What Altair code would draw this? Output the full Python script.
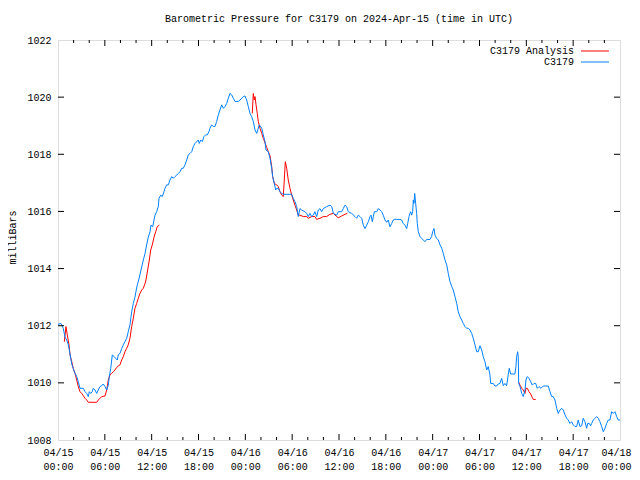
import altair as alt
import pandas as pd

# ---- data (hours since 2024-04-15 00:00 UTC, millibars) ----
blue_h = [0.00, 0.38, 0.68, 0.90, 1.11, 1.32, 1.45, 1.63, 1.79, 1.96, 2.18, 2.40, 2.60, 2.82, 3.24, 3.46,
          3.68, 3.88, 4.01, 4.19, 4.39, 4.52, 4.74, 4.96, 5.16, 5.38, 5.60, 5.80, 6.02, 6.24, 6.44, 6.57,
          6.75, 6.96, 7.17, 7.39, 7.60, 7.72, 7.94, 8.16, 8.37, 8.58, 8.80, 9.00, 9.22, 9.35, 9.48, 9.65,
          9.86, 9.99, 10.16, 10.34, 10.93, 11.15, 11.36, 11.57, 11.79, 11.91, 12.13, 12.30, 12.43, 12.64,
          12.85, 12.94, 13.16, 13.36, 13.58, 13.71, 13.93, 14.13, 14.35, 14.57, 14.77, 14.99, 15.21, 15.41,
          15.63, 15.85, 16.05, 16.27, 16.49, 16.69, 16.91, 17.13, 17.33, 17.55, 17.77, 17.97, 18.10, 18.28,
          18.49, 18.70, 18.92, 19.13, 19.34, 19.47, 19.69, 19.90, 20.11, 20.33, 20.54, 20.75, 20.97, 21.18,
          21.39, 21.61, 21.82, 22.03, 22.25, 22.46, 22.68, 23.10, 23.32, 23.74, 23.96, 24.17, 24.38, 24.60,
          24.81, 25.02, 25.24, 25.46, 25.79, 26.10, 26.30, 26.52, 26.65, 26.94, 27.16, 27.38, 27.50, 27.71,
          27.89, 28.02, 28.22, 28.44, 28.66, 28.86, 29.94, 30.14, 30.36, 30.58, 30.78, 31.00, 31.22, 31.64,
          31.86, 32.06, 32.28, 32.50, 32.71, 32.92, 33.14, 33.35, 33.56, 33.78, 33.99, 34.42, 34.85, 35.07,
          35.28, 35.70, 35.91, 36.34, 36.55, 36.77, 36.98, 37.19, 37.63, 38.05, 38.27, 38.47, 38.69, 38.91,
          39.11, 39.33, 39.55, 39.76, 39.97, 40.10, 40.27, 40.40, 40.53, 40.83, 41.03, 41.25, 41.47, 41.67,
          41.89, 42.11, 42.31, 42.53, 42.75, 42.95, 43.17, 43.39, 43.81, 44.03, 44.23, 44.45, 44.67, 44.80,
          44.97, 45.09, 45.18, 45.31, 45.44, 45.52, 45.61, 45.70, 45.82, 45.95, 46.03, 46.16, 46.38, 46.59,
          46.80, 47.01, 47.23, 47.66, 47.87, 48.00, 48.17, 48.30, 48.51, 48.72, 48.94, 49.16, 49.36, 49.58,
          49.80, 50.00, 50.22, 50.44, 50.64, 50.86, 51.08, 51.28, 51.50, 51.72, 51.92, 52.14, 52.36, 52.56,
          52.78, 53.00, 53.20, 53.42, 53.64, 53.84, 54.06, 54.28, 54.48, 54.70, 54.92, 55.12, 55.34, 55.43,
          55.76, 55.98, 56.20, 56.40, 56.62, 56.84, 57.05, 57.26, 57.48, 57.68, 57.81, 57.99, 58.54, 58.67,
          58.76, 58.89, 58.97, 59.02, 59.19, 59.41, 59.61, 59.83, 59.95, 60.12, 60.34, 60.56, 60.76, 60.98,
          61.20, 61.40, 61.62, 61.88, 62.17, 62.81, 63.03, 63.25, 63.45, 63.67, 63.89, 64.09, 64.31, 64.53,
          64.73, 64.95, 65.17, 65.37, 65.59, 65.81, 66.01, 66.23, 66.45, 66.65, 66.87, 67.09, 67.29, 67.51,
          67.73, 67.86, 68.07, 68.24, 68.37, 68.58, 68.79, 69.01, 69.22, 69.43, 69.65, 69.86, 70.08, 70.29,
          70.50, 70.71, 70.93, 71.14, 71.36, 71.57, 71.78, 72.00]
blue_p = [1012.05, 1012.08, 1011.90, 1011.60, 1011.50, 1011.33, 1011.15, 1010.86, 1010.63, 1010.50, 1010.33,
          1010.22, 1010.04, 1009.81, 1009.81, 1009.69, 1009.63, 1009.52, 1009.69, 1009.63, 1009.69, 1009.81,
          1009.75, 1009.63, 1009.75, 1009.87, 1009.90, 1009.96, 1009.87, 1009.75, 1009.92, 1010.22, 1010.50,
          1010.98, 1010.92, 1010.86, 1010.80, 1010.98, 1011.03, 1011.20, 1011.33, 1011.44, 1011.56, 1011.79,
          1012.03, 1012.30, 1012.55, 1012.78, 1013.00, 1013.20, 1013.43, 1013.60, 1014.30, 1014.53, 1014.83,
          1015.10, 1015.29, 1015.52, 1015.46, 1015.70, 1015.87, 1015.99, 1016.17, 1016.46, 1016.57, 1016.52,
          1016.69, 1016.81, 1016.93, 1016.93, 1017.10, 1017.22, 1017.16, 1017.22, 1017.27, 1017.33, 1017.39,
          1017.51, 1017.51, 1017.63, 1017.80, 1017.98, 1018.03, 1018.09, 1018.27, 1018.38, 1018.44, 1018.50,
          1018.38, 1018.50, 1018.44, 1018.62, 1018.68, 1018.68, 1018.79, 1018.91, 1019.03, 1018.97, 1018.97,
          1019.15, 1019.38, 1019.55, 1019.73, 1019.61, 1019.67, 1019.78, 1019.96, 1020.13, 1020.08, 1019.96,
          1019.85, 1019.85, 1019.90, 1020.02, 1020.04, 1019.90, 1019.67, 1019.43, 1019.32, 1019.15, 1018.85,
          1018.73, 1019.03, 1018.91, 1018.68, 1018.44, 1018.15, 1018.09, 1017.86, 1017.51, 1017.22, 1016.98,
          1016.75, 1016.81, 1016.81, 1016.69, 1016.63, 1016.60, 1016.60, 1016.46, 1016.34, 1016.17, 1015.82,
          1016.10, 1016.05, 1015.99, 1015.93, 1015.82, 1015.93, 1015.82, 1015.87, 1015.99, 1015.82, 1016.05,
          1016.10, 1015.99, 1016.10, 1016.17, 1016.22, 1016.17, 1015.93, 1015.87, 1015.99, 1015.99, 1016.10,
          1016.22, 1016.17, 1015.99, 1015.93, 1015.82, 1015.76, 1015.87, 1015.82, 1015.76, 1015.52, 1015.40,
          1015.52, 1015.64, 1015.82, 1015.87, 1015.64, 1015.82, 1015.99, 1015.99, 1016.10, 1016.05, 1015.99,
          1015.87, 1015.70, 1015.62, 1015.70, 1015.46, 1015.58, 1015.70, 1015.73, 1015.72, 1015.72, 1015.70,
          1015.58, 1015.52, 1015.40, 1015.58, 1015.82, 1015.93, 1015.99, 1015.87, 1015.99, 1016.40, 1016.28,
          1016.63, 1016.28, 1015.93, 1015.58, 1015.29, 1015.12, 1015.06, 1015.00, 1014.94, 1015.02, 1015.02,
          1015.12, 1015.29, 1015.40, 1015.17, 1015.06, 1015.00, 1014.83, 1014.71, 1014.53, 1014.30, 1014.13,
          1013.83, 1013.54, 1013.37, 1013.25, 1013.02, 1012.78, 1012.49, 1012.32, 1012.20, 1012.08, 1011.97,
          1011.91, 1011.91, 1011.85, 1011.73, 1011.56, 1011.33, 1011.09, 1011.09, 1011.30, 1011.15, 1010.92,
          1010.74, 1010.45, 1010.57, 1010.28, 1009.98, 1009.98, 1009.89, 1009.89, 1009.96, 1009.98, 1010.16,
          1009.90, 1009.98, 1009.90, 1010.28, 1010.51, 1010.31, 1010.31, 1010.57, 1010.92, 1011.09, 1010.90,
          1009.98, 1009.87, 1009.63, 1009.52, 1009.75, 1010.10, 1010.22, 1010.16, 1010.04, 1009.92, 1009.98,
          1009.98, 1009.81, 1009.87, 1009.81, 1009.89, 1009.89, 1009.69, 1009.52, 1009.52, 1009.40, 1009.11,
          1008.93, 1009.05, 1009.11, 1009.05, 1008.88, 1008.76, 1008.70, 1008.58, 1008.64, 1008.53, 1008.47,
          1008.47, 1008.70, 1008.47, 1008.50, 1008.76, 1008.64, 1008.41, 1008.58, 1008.58, 1008.50, 1008.58,
          1008.70, 1008.76, 1008.82, 1008.76, 1008.64, 1008.47, 1008.29, 1008.41, 1008.58, 1008.70, 1008.70,
          1008.99, 1008.93, 1008.99, 1008.82, 1008.70, 1008.70]

red1_h = [0.81, 1.02, 1.19, 1.41, 1.54, 1.76, 1.96, 2.18, 2.40, 2.60, 2.82, 3.04, 3.24, 3.46, 3.68, 3.88,
          4.96, 5.16, 5.60, 6.02, 6.24, 6.44, 6.66, 6.88, 7.08, 7.30, 7.52, 7.72, 7.94, 8.16, 8.37, 8.58,
          8.80, 9.00, 9.22, 9.44, 9.65, 9.86, 10.08, 10.29, 10.50, 10.72, 10.93, 11.15, 11.27, 11.70, 11.88,
          12.08, 12.30, 12.52, 12.72, 12.98]
red1_p = [1011.44, 1011.97, 1011.68, 1011.33, 1010.98, 1010.74, 1010.50, 1010.33, 1010.10, 1009.87, 1009.69,
          1009.63, 1009.55, 1009.46, 1009.40, 1009.32, 1009.32, 1009.40, 1009.52, 1009.54, 1009.75, 1010.10,
          1010.28, 1010.33, 1010.39, 1010.45, 1010.54, 1010.59, 1010.63, 1010.80, 1010.92, 1011.09, 1011.21,
          1011.33, 1011.56, 1011.97, 1012.26, 1012.61, 1012.78, 1012.96, 1013.13, 1013.25, 1013.31, 1013.48,
          1013.60, 1014.30, 1014.65, 1014.83, 1015.10, 1015.29, 1015.47, 1015.52]
red2_h = [24.89, 25.02, 25.15, 25.24, 25.37, 25.53, 25.66, 25.88, 26.10, 26.30, 26.52, 26.74, 26.94, 27.16,
          27.38, 27.50, 27.71, 28.02, 28.22, 28.44, 28.66, 28.86, 28.99, 29.12, 29.30, 29.50, 29.72, 29.94,
          30.14, 30.36, 30.58, 30.78, 31.00, 31.42, 31.86, 32.06, 32.50, 32.92, 33.14, 33.56, 33.99, 34.42,
          34.85, 35.28, 35.70, 35.91, 36.34, 36.77, 37.06]
red2_p = [1019.43, 1020.13, 1019.90, 1020.02, 1019.73, 1019.43, 1019.15, 1018.91, 1018.73, 1018.56, 1018.40,
          1018.24, 1018.09, 1017.95, 1017.57, 1017.22, 1016.98, 1016.93, 1016.87, 1016.69, 1016.57, 1016.52,
          1017.10, 1017.74, 1017.51, 1017.10, 1016.81, 1016.57, 1016.40, 1016.22, 1016.05, 1015.87, 1015.87,
          1015.82, 1015.82, 1015.76, 1015.82, 1015.82, 1015.72, 1015.76, 1015.82, 1015.82, 1015.90, 1015.93,
          1015.82, 1015.78, 1015.84, 1015.90, 1015.93]
red3_h = [59.02, 59.19, 59.41, 59.61, 59.83, 59.95, 60.12, 60.34, 60.56, 60.76, 60.89, 61.20]
red3_p = [1010.02, 1009.92, 1009.81, 1009.75, 1009.63, 1009.81, 1009.81, 1009.69, 1009.61, 1009.49, 1009.42,
          1009.42]

series_names = ["C3179 Analysis", "C3179"]
series_colors = ["#ff0000", "#0080ff"]
y_ticks = [1008, 1010, 1012, 1014, 1016, 1018, 1020, 1022]
x_label_hours = [0, 6, 12, 18, 24, 30, 36, 42, 48, 54, 60, 66, 72]
x_minor_hours = [h for h in range(0, 73, 2) if h % 6 != 0]

BASE = pd.Timestamp("2024-04-15T00:00:00")


def iso(hours):
    return [(BASE + pd.Timedelta(hours=float(h))).strftime("%Y-%m-%dT%H:%M:%SZ") for h in hours]


frames = []
for seg, hs, ps in [("r1", red1_h, red1_p), ("r2", red2_h, red2_p), ("r3", red3_h, red3_p)]:
    frames.append(pd.DataFrame({"time": iso(hs), "p": ps, "series": series_names[0], "seg": seg}))
frames.append(pd.DataFrame({"time": iso(blue_h), "p": blue_p, "series": series_names[1], "seg": "b"}))
df = pd.concat(frames, ignore_index=True)

FONT = "Liberation Mono"
W, H = 562, 400


def dt(h):
    return alt.DateTime(year=2024, month=4, date=15 + h // 24, hours=h % 24, utc=True)


xscale = alt.Scale(type="utc", domain=[dt(0), dt(72)])
yscale = alt.Scale(domain=[1008, 1022])

# the last label (04/18) is nudged left a little so it stays inside the page
last_label_offset = {"condition": {"test": "+datum.value >= 1713398400000", "value": -4}, "value": 0}

xaxis = alt.Axis(values=[dt(h) for h in x_label_hours], ticks=False, domain=False, grid=False,
                 labelExpr="[utcFormat(datum.value, '%m/%d'), utcFormat(datum.value, '%H:%M')]",
                 labelFont=FONT, labelFontSize=10, labelColor="black", labelPadding=7,
                 labelLineHeight=14, labelFlush=False, labelOverlap=False, title=None,
                 labelOffset=last_label_offset)
yaxis = alt.Axis(values=y_ticks, ticks=False, domain=False, grid=False, format="d",
                 labelFont=FONT, labelFontSize=10, labelColor="black", labelPadding=7,
                 title="milliBars", titleFont=FONT, titleFontSize=10, titleFontWeight="normal",
                 titleColor="black", titleX=-46, titleY=197, titleAlign="center",
                 titleBaseline="middle", titleAngle=270)

lines = alt.Chart(df).mark_line(strokeWidth=1, interpolate="linear").encode(
    x=alt.X("time:T", scale=xscale, axis=xaxis),
    y=alt.Y("p:Q", scale=yscale, axis=yaxis),
    color=alt.Color("series:N", scale=alt.Scale(domain=series_names, range=series_colors), legend=None),
    detail="seg:N",
    order=alt.Order("time:T"),
)

major_df = pd.DataFrame({"time": iso(x_label_hours[1:-1])})
minor_df = pd.DataFrame({"time": iso(x_minor_hours)})
ytick_df = pd.DataFrame({"p": y_ticks[1:-1]})

xt = lambda d, y0, y1: alt.Chart(d).mark_rule(color="black", strokeWidth=1).encode(
    x=alt.X("time:T", scale=xscale), y=alt.value(y0), y2=alt.value(y1))
yt = lambda x0, x1: alt.Chart(ytick_df).mark_rule(color="black", strokeWidth=1).encode(
    y=alt.Y("p:Q", scale=yscale), x=alt.value(x0), x2=alt.value(x1))

ticks = [
    xt(major_df, H, H - 6), xt(major_df, 0, 6),
    xt(minor_df, H, H - 3), xt(minor_df, 0, 3),
    yt(0, 6), yt(W, W - 6),
]

one = alt.Data(values=[{"a": 1}])
legend = []
for i, (name, col) in enumerate(zip(series_names, series_colors)):
    yy = 11 + 11 * i
    legend.append(alt.Chart(one).mark_text(text=name, font=FONT, fontSize=10, align="right",
                                           baseline="middle", color="black").encode(
        x=alt.value(516), y=alt.value(yy)))
    legend.append(alt.Chart(one).mark_rule(color=col, strokeWidth=1).encode(
        x=alt.value(523), x2=alt.value(551), y=alt.value(yy)))

chart = alt.layer(lines, *ticks, *legend).properties(
    width=W, height=H,
    title=alt.TitleParams("Barometric Pressure for C3179 on 2024-Apr-15 (time in UTC)",
                          font=FONT, fontSize=10, fontWeight="normal", color="black",
                          anchor="middle", offset=11),
    autosize=alt.AutoSizeParams(type="none"),
    padding={"left": 50, "top": 32, "right": 12, "bottom": 32},
).configure_view(stroke="black", strokeWidth=1).configure(background="white")

chart.save("out.html", embed_options={"renderer": "svg", "actions": False})
